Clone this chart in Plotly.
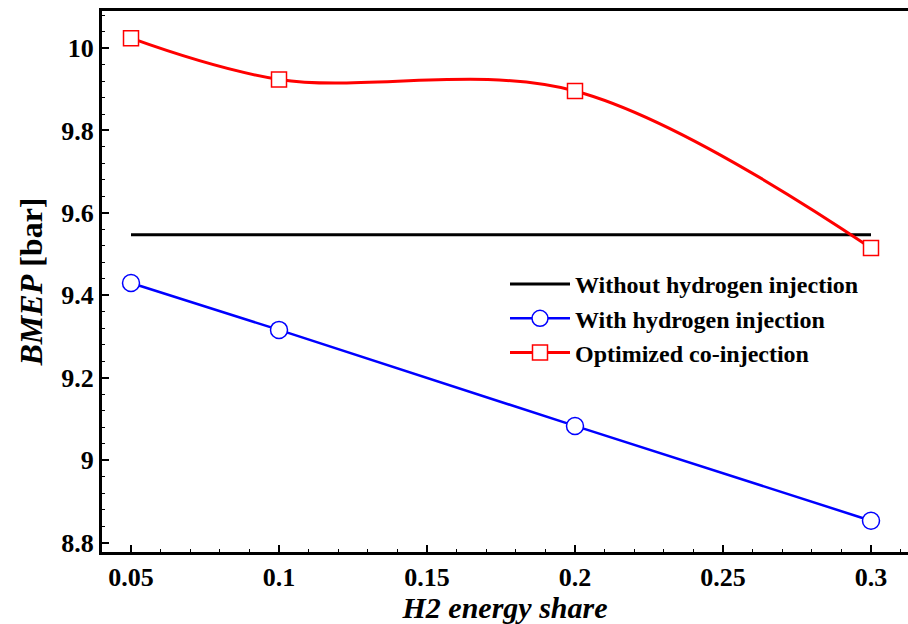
import plotly.graph_objects as go

# Data
h2_share = [0.05, 0.1, 0.2, 0.3]
bmep_without = [9.547, 9.547]
without_x = [0.05, 0.3]
bmep_with = [9.430, 9.316, 9.083, 8.853]
bmep_opt = [10.024, 9.924, 9.896, 9.515]

x_tickvals = [0.05, 0.1, 0.15, 0.2, 0.25, 0.3]
x_ticktext = ["0.05", "0.1", "0.15", "0.2", "0.25", "0.3"]
y_tickvals = [8.8, 9.0, 9.2, 9.4, 9.6, 9.8, 10.0]
y_ticktext = ["8.8", "9", "9.2", "9.4", "9.6", "9.8", "10"]

FONT = "Times New Roman, Liberation Serif, serif"

fig = go.Figure()
fig.add_trace(go.Scatter(
    x=without_x, y=bmep_without, mode="lines",
    name="Without hydrogen injection",
    line=dict(color="black", width=3),
))
fig.add_trace(go.Scatter(
    x=h2_share, y=bmep_with, mode="lines+markers",
    name="With hydrogen injection",
    line=dict(color="#0000FF", width=2.5),
    marker=dict(symbol="circle", size=17, color="white",
                line=dict(color="#0000FF", width=1.5)),
))
fig.add_trace(go.Scatter(
    x=h2_share, y=bmep_opt, mode="lines+markers",
    name="Optimized co-injection",
    line=dict(color="#FF0000", width=3, shape="spline", smoothing=1.0),
    marker=dict(symbol="square", size=15, color="white",
                line=dict(color="#FF0000", width=1.5)),
))

fig.update_layout(
    width=908, height=624, autosize=False,
    margin=dict(l=102, r=0, t=11, b=72),
    paper_bgcolor="white", plot_bgcolor="white",
    font=dict(family=FONT, color="black"),
    legend=dict(
        x=0.500, y=0.536, xanchor="left", yanchor="top",
        font=dict(family=FONT, size=24, color="black", weight="bold"),
        bgcolor="rgba(0,0,0,0)", itemwidth=60,
        tracegroupgap=0,
    ),
    xaxis=dict(
        range=[0.0402, 0.3125],
        tickvals=x_tickvals, ticktext=x_ticktext,
        ticks="inside", ticklen=7, tickwidth=1.5, tickcolor="black",
        minor=dict(dtick=0.01, tick0=0.0, ticks="inside", ticklen=3,
                   tickwidth=1, tickcolor="black"),
        showline=True, linecolor="black", linewidth=3, mirror=True,
        showgrid=False, zeroline=False,
        tickfont=dict(family=FONT, size=26, color="black", weight="bold"),
        title=dict(text="<b><i>H2 energy share</i></b>", standoff=5,
                   font=dict(family=FONT, size=30, color="black")),
    ),
    yaxis=dict(
        range=[8.777, 10.09],
        tickvals=y_tickvals, ticktext=y_ticktext,
        ticks="inside", ticklen=7, tickwidth=1.5, tickcolor="black",
        minor=dict(dtick=0.04, tick0=8.8, ticks="inside", ticklen=3,
                   tickwidth=1, tickcolor="black"),
        showline=True, linecolor="black", linewidth=3, mirror=False,
        showgrid=False, zeroline=False,
        tickfont=dict(family=FONT, size=26, color="black", weight="bold"),
        title=dict(text="<b><i>BMEP</i> [bar]</b>", standoff=10,
                   font=dict(family=FONT, size=32, color="black")),
    ),
)

fig.write_html("out.html")
